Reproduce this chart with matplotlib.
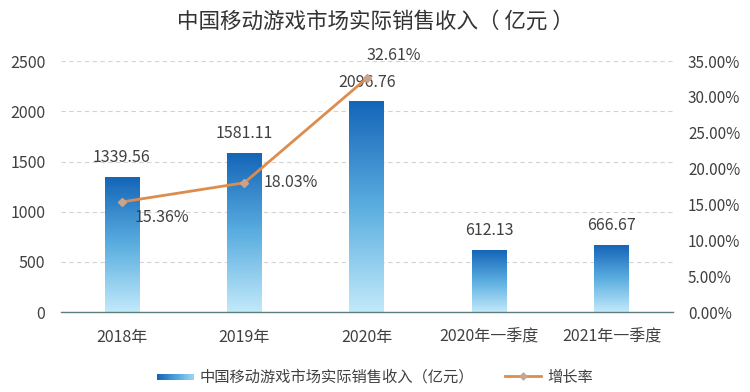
import matplotlib
matplotlib.use("Agg")
import matplotlib.pyplot as plt
import numpy as np
from matplotlib.colors import LinearSegmentedColormap
from matplotlib.lines import Line2D
from matplotlib.patches import Rectangle
from matplotlib.legend_handler import HandlerBase

plt.rcParams['font.family'] = ['Noto Sans CJK SC', 'DejaVu Sans']

categories = ['2018年', '2019年', '2020年', '2020年一季度', '2021年一季度']
revenue = [1339.56, 1581.11, 2096.76, 612.13, 666.67]
growth = [15.36, 18.03, 32.61]
growth_labels = ['15.36%', '18.03%', '32.61%']
left_ticks = [0, 500, 1000, 1500, 2000, 2500]
right_ticks = [0, 5, 10, 15, 20, 25, 30, 35]

title = '中国移动游戏市场实际销售收入（ 亿元 ）'
bar_name = '中国移动游戏市场实际销售收入（亿元）'
line_name = '增长率'

text_color = '#404040'
line_color = '#DC8D4E'
cmap = LinearSegmentedColormap.from_list('bg', ['#C2E9FA', '#5AAEE0', '#1565B8'])

fig = plt.figure(figsize=(7.5, 3.92), dpi=100)
ax = fig.add_axes([0.081, 0.204, 0.816, 0.640])
x = np.arange(len(categories))

bars = ax.bar(x, revenue, width=0.285, color='none', zorder=2)
grad = np.linspace(0, 1, 256).reshape(-1, 1)
for b in bars:
    x0, y0 = b.get_x(), b.get_y()
    w, h = b.get_width(), b.get_height()
    ax.imshow(grad, cmap=cmap, origin='lower', aspect='auto',
              extent=[x0, x0 + w, y0, y0 + h], zorder=2)

ax.set_xlim(-0.5, len(categories) - 0.5)
ax.set_ylim(0, 2500)
ax.set_yticks(left_ticks)
ax.set_yticklabels([str(t) for t in left_ticks])
ax.set_xticks(x)
ax.set_xticklabels(categories)
ax.tick_params(axis='both', length=0, colors=text_color, labelsize=11.5)
ax.tick_params(axis='x', pad=12)
ax.tick_params(axis='y', pad=11)
ax.grid(axis='y', linestyle=(0, (4, 3)), color='#D3D3D3', linewidth=0.8, zorder=0)
ax.set_axisbelow(True)
for s in ['top', 'left', 'right']:
    ax.spines[s].set_visible(False)
ax.spines['bottom'].set_color('#5F7F7F')
ax.spines['bottom'].set_linewidth(1.0)

for xi, v in zip(x, revenue):
    ax.annotate(f'{v:.2f}', (xi, v), xytext=(0, 8), textcoords='offset points',
                ha='center', va='bottom', fontsize=11.5, color=text_color)

ax2 = ax.twinx()
ax2.set_ylim(0, 35)
ax2.set_yticks(right_ticks)
ax2.set_yticklabels([f'{t:.2f}%' for t in right_ticks])
ax2.tick_params(axis='y', length=0, colors=text_color, labelsize=11, pad=11)
for s in ['top', 'left', 'right', 'bottom']:
    ax2.spines[s].set_visible(False)

gx = x[:len(growth)]
ax2.plot(gx, growth, color=line_color, linewidth=2, marker='D', markersize=4,
         markerfacecolor='#C9A48C', markeredgecolor='#C9A48C', zorder=3)

offsets = [(9, -11, 'left', 'center'), (14, 0, 'left', 'center'), (0, 10, 'left', 'bottom')]
for xi, v, lab, (dx, dy, ha, va) in zip(gx, growth, growth_labels, offsets):
    ax2.annotate(lab, (xi, v), xytext=(dx, dy), textcoords='offset points',
                 ha=ha, va=va, fontsize=11.5, color=text_color)

fig.text(0.5, 0.945, title, ha='center', va='center', fontsize=15.5, color='#333333')


class GradHandler(HandlerBase):
    def create_artists(self, legend, orig_handle, xdescent, ydescent, width, height, fontsize, trans):
        arts = []
        n = 20
        for i in range(n):
            c = cmap(1 - i / (n - 1) * 0.8)
            r = Rectangle((xdescent + width * i / n, ydescent + height * 0.15),
                          width / n + 0.3, height * 0.6, facecolor=c, edgecolor='none',
                          transform=trans)
            arts.append(r)
        return arts


bar_handle = Rectangle((0, 0), 1, 1)
line_handle = Line2D([0], [0], color=line_color, linewidth=2, marker='D', markersize=3.5,
                     markerfacecolor='#C9A48C', markeredgecolor='#C9A48C')
fig.legend([bar_handle, line_handle], [bar_name, line_name],
           handler_map={bar_handle: GradHandler()},
           loc='center', bbox_to_anchor=(0.5, 0.038), ncol=2, frameon=False,
           fontsize=11, labelcolor=text_color, handlelength=2.4, columnspacing=2.0,
           handletextpad=0.4)

fig.savefig('out.png', dpi=100)
